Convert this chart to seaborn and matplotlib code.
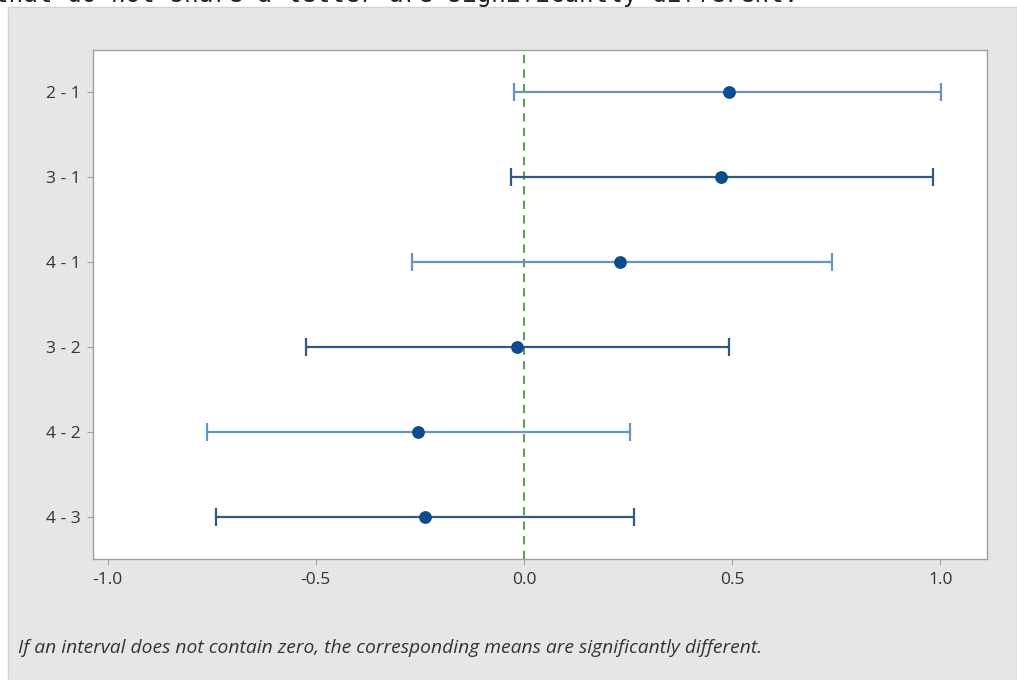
import matplotlib
matplotlib.use("Agg")
import matplotlib.pyplot as plt
import seaborn as sns
import pandas as pd
from matplotlib.patches import Rectangle

# Tukey simultaneous 95% CIs (difference of means)
comparisons = ["2 - 1", "3 - 1", "4 - 1", "3 - 2", "4 - 2", "4 - 3"]
means = [0.492, 0.473, 0.230, -0.017, -0.254, -0.238]
lower = [-0.024, -0.031, -0.269, -0.523, -0.761, -0.739]
upper = [1.001, 0.982, 0.739, 0.492, 0.254, 0.264]
x_ticks = [-1.0, -0.5, 0.0, 0.5, 1.0]
x_tick_labels = ["-1.0", "-0.5", "0.0", "0.5", "1.0"]

header = "that do not share a letter are significantly different."
footnote = "If an interval does not contain zero, the corresponding means are significantly different."

sns.set_theme(style="white")
plt.rcParams["font.family"] = ["Open Sans", "DejaVu Sans"]

W, H = 1017, 680
fig = plt.figure(figsize=(W / 100, H / 100), dpi=100)
fig.patch.set_facecolor("white")

# gray panel behind the chart
fig.patches.append(Rectangle((8 / W, 0), 1 - 8 / W, 1 - 7 / H, transform=fig.transFigure,
                             facecolor="#e6e6e6", edgecolor="#d2d2d2", linewidth=1.0, zorder=-5))

# clipped header text from the page above
fig.text(-6 / W, 1 - 2 / H, header, family="DejaVu Sans Mono", fontsize=17.5,
         color="#222222", va="baseline", ha="left")

ax = fig.add_axes([93 / W, 1 - 559 / H, 894 / W, 509 / H])
ax.set_facecolor("white")

df = pd.DataFrame({"comparison": comparisons, "mean": means, "lower": lower, "upper": upper})
df["pos"] = range(len(df))

line_colors = ["#6b93c0", "#355a80"]
for i, row in df.iterrows():
    c = line_colors[i % 2]
    ax.errorbar(row["mean"], row["pos"],
                xerr=[[row["mean"] - row["lower"]], [row["upper"] - row["mean"]]],
                fmt="none", ecolor=c, elinewidth=1.6, capsize=6.5, capthick=1.6, zorder=2)

sns.scatterplot(data=df, x="mean", y="pos", ax=ax, color="#0c4c8f", s=85,
                edgecolor="#0c4c8f", linewidth=0, zorder=3, legend=False)

ax.axvline(0, color="#5e9e5e", linestyle=(0, (4, 3)), linewidth=1.5, zorder=1)

ax.set_xlim(-1.035, 1.112)
ax.set_ylim(5.5, -0.5)
ax.set_xticks(x_ticks)
ax.set_xticklabels(x_tick_labels)
ax.set_yticks(df["pos"])
ax.set_yticklabels(comparisons)
ax.set_xlabel("")
ax.set_ylabel("")
ax.tick_params(axis="both", which="both", direction="out", length=4, width=0.8,
               color="#a0a0a0", labelsize=12.5, labelcolor="#333333",
               bottom=True, left=True, pad=5)
for sp in ax.spines.values():
    sp.set_color("#a0a0a0")
    sp.set_linewidth(1.0)

fig.text(18 / W, 1 - 648 / H, footnote, fontsize=13.9, style="italic",
         color="#333333", va="center", ha="left")

fig.savefig("out.png", dpi=100)
